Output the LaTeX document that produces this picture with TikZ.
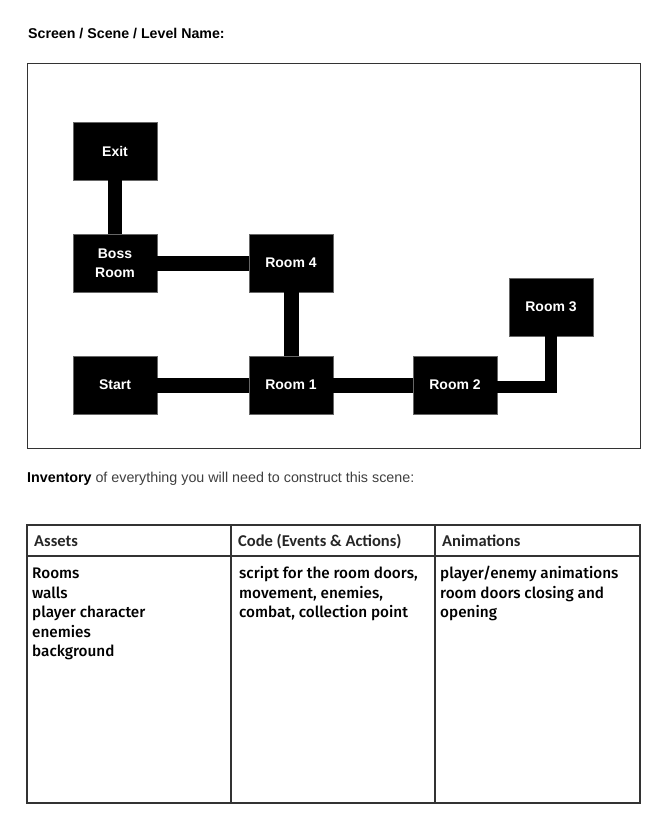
\documentclass[tikz,border=0pt]{standalone}
\usepackage{fontspec}
\setmainfont{Liberation Sans}
\IfFontExistsTF{Fira Sans Medium}{\newfontfamily\bodyf{Fira Sans Medium}}{\newfontfamily\bodyf{Fira Sans}[FakeBold=1]}
\newfontfamily\headf{Carlito}
\definecolor{frame}{HTML}{333333}
\definecolor{boxedge}{HTML}{666666}
\tikzset{
  room/.style={fill=black, draw=boxedge, line width=0.8pt, minimum width=84pt, minimum height=58pt,
    inner sep=0pt, text=white, font=\fontsize{14}{19}\selectfont\bfseries, align=center},
  corridor/.style={draw=black, line width=15pt, line cap=butt, line join=miter},
  thincorr/.style={draw=black, line width=12pt, line cap=butt, line join=miter},
  grid/.style={draw=frame, line width=1.3pt},
  head/.style={anchor=base west, inner sep=0pt, font=\fontsize{16.5}{18}\selectfont\headf\bfseries, text=black!85},
  body/.style={anchor=base west, inner sep=0pt, align=left, font=\fontsize{15.3}{19.5}\selectfont\bodyf, text=black}
}
\begin{document}
\begin{tikzpicture}[x=1pt,y=-1pt]
\useasboundingbox (0,0) rectangle (657,837);
\fill[white] (0,0) rectangle (657,837);

\node[anchor=base west, inner sep=0pt, font=\fontsize{14.2}{16}\selectfont\bfseries] (title) at (28,39) {Screen / Scene / Level Name:};

\draw[draw=frame, line width=0.9pt] (27,63) rectangle (640,448);

\node[room] (exit) at (115,151) {Exit};
\node[room] (boss) at (115,263) {Boss\\Room};
\node[room] (r4) at (291,263) {Room 4};
\node[room] (start) at (115,385) {Start};
\node[room] (r1) at (291,385) {Room 1};
\node[room] (r2) at (455,385) {Room 2};
\node[room] (r3) at (551,307) {Room 3};

\draw[corridor, line width=14pt] (exit.south) -- (boss.north);
\draw[corridor] (boss.east) -- (r4.west);
\draw[corridor] (r4.south) -- (r1.north);
\draw[corridor] (start.east) -- (r1.west);
\draw[corridor] (r1.east) -- (r2.west);
\draw[thincorr] ([yshift=-2pt]r2.east) -| (r3.south);

\node[anchor=base west, inner sep=0pt, font=\fontsize{14.3}{16}\selectfont, text=black!75] (inv) at (27,482) {\textbf{\color{black}Inventory} of everything you will need to construct this scene:};

\draw[grid] (27,525) rectangle (640,803);
\draw[grid] (27,556) -- (640,556);
\draw[grid] (231,525) -- (231,803);
\draw[grid] (435,525) -- (435,803);

\node[head] (h1) at (34,546.5) {Assets};
\node[head] (h2) at (238,546.5) {Code (Events \& Actions)};
\node[head] (h3) at (442,546.5) {Animations};

\node[body] (b1) at (32,656.5) {Rooms\\walls\\player character\\enemies\\background};
\node[body] (b2) at (239,617.5) {script for the room doors,\\movement, enemies,\\combat, collection point};
\node[body] (b3) at (440,617.5) {player/enemy animations\\room doors closing and\\opening};
\end{tikzpicture}
\end{document}
